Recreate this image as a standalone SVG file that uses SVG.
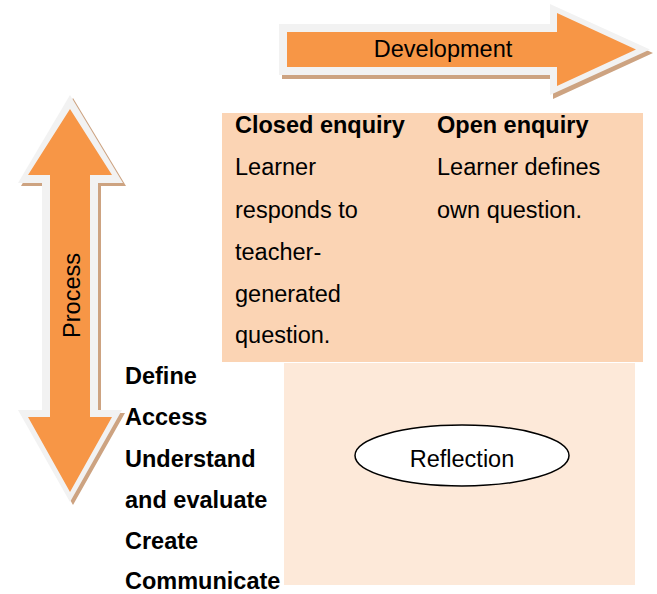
<svg xmlns="http://www.w3.org/2000/svg" width="657" height="594" viewBox="0 0 657 594">
<style>
.t{font-family:"Liberation Sans",Arial,sans-serif;font-size:23.5px;fill:#000}
.b{font-weight:bold}
.sh{fill:#cda381}
.rim{fill:#f2f2f2}
.or{fill:#f79646}
</style>
<rect width="657" height="594" fill="#fff"/>
<g id="development-arrow">
<polygon class="sh" points="282,28 553,28 553,8 653,53 553,99 553,79 282,79"/>
<polygon class="rim" points="279,24 550,24 550,4 650,49.5 550,95 550,75 279,75"/>
<polygon class="or" points="287,32 557,32 557,13 636,49.5 557,86 557,67 287,67"/>
<text class="t" x="443" y="57" text-anchor="middle">Development</text>
</g>
<g id="process-arrow">
<polygon class="sh" points="73,98 126,186 101,186 101,413 125,413 73,505 21,413 45,413 45,186 21,186"/>
<polygon class="rim" points="70,95 123,183 98,183 98,410 122,410 70,502 18,410 42,410 42,183 18,183"/>
<polygon class="or" points="70,109 112,175 90,175 90,417 112,417 70,492 28,417 50,417 50,175 28,175"/>
<text class="t" transform="translate(80,295.5) rotate(-90)" text-anchor="middle">Process</text>
</g>
<g id="enquiry-box">
<rect x="222" y="113" width="421" height="249" fill="#fbd4b4"/>
<text class="t b" x="235" y="133">Closed enquiry</text>
<text class="t" x="235" y="175">Learner</text>
<text class="t" x="235" y="218">responds to</text>
<text class="t" x="235" y="260">teacher-</text>
<text class="t" x="235" y="302">generated</text>
<text class="t" x="235" y="343">question.</text>
<text class="t b" x="437" y="133">Open enquiry</text>
<text class="t" x="437" y="175">Learner defines</text>
<text class="t" x="437" y="218">own question.</text>
</g>
<g id="reflection-box">
<rect x="284" y="363" width="351" height="222" fill="#fde9d9"/>
</g>
<g id="reflection">
<ellipse cx="462" cy="455.5" rx="107" ry="30.5" fill="#fff" stroke="#000" stroke-width="1.5"/>
<text class="t" x="462" y="467" text-anchor="middle">Reflection</text>
</g>
<g id="process-steps">
<text class="t b" x="125" y="384">Define</text>
<text class="t b" x="125" y="425">Access</text>
<text class="t b" x="125" y="467">Understand</text>
<text class="t b" x="125" y="508">and evaluate</text>
<text class="t b" x="125" y="549">Create</text>
<text class="t b" x="125" y="589">Communicate</text>
</g>
<g id="connectors"></g>
</svg>
